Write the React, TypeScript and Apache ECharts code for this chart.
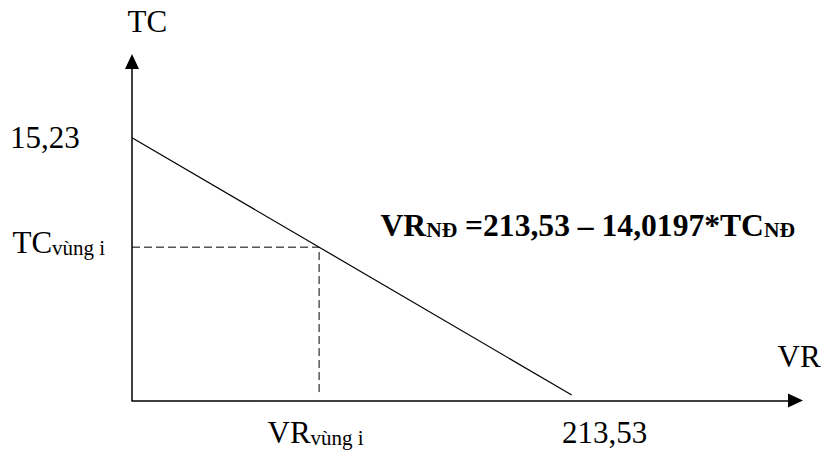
import React, { useEffect, useRef } from "react";
import * as echarts from "echarts";

const lineX = [0, 213.53];
const lineY = [15.23, 0];
const pointTC = 8.75;
const pointVR = 213.53 - 14.0197 * pointTC;
const xRange = [0, 322.2];
const yRange = [-0.326, 19.74];

const FONT = "'Liberation Serif', 'Times New Roman', serif";

export default function App() {
  const ref = useRef<HTMLDivElement>(null);
  useEffect(() => {
    if (!ref.current) return;
    const chart = echarts.init(ref.current, undefined, { renderer: "svg" });
    const lineData = lineX.map((x, i) => [x, lineY[i]]);
    const dashData = [
      [0, pointTC],
      [pointVR, pointTC],
      [pointVR, 0],
    ];
    const base = { fontFamily: FONT, fontSize: 31, fill: "#000" };
    const subRich = {
      m: { fontFamily: FONT, fontSize: 31, lineHeight: 31, verticalAlign: "bottom" },
      s: { fontFamily: FONT, fontSize: 21, lineHeight: 22, verticalAlign: "bottom" },
      mb: { fontFamily: FONT, fontSize: 31.6, fontWeight: "bold", lineHeight: 31.6, verticalAlign: "bottom" },
      sb: { fontFamily: FONT, fontSize: 21.5, fontWeight: "bold", lineHeight: 22.5, verticalAlign: "bottom" },
    };
    const axisLine = {
      show: true,
      onZero: false,
      symbol: ["none", "triangle"],
      symbolSize: [14, 15],
      lineStyle: { color: "#000", width: 1.5 },
    };
    chart.setOption({
      animation: false,
      backgroundColor: "#fff",
      grid: { left: 132, right: 33.5, top: 61.5, bottom: 51.5 },
      xAxis: {
        type: "value",
        min: xRange[0],
        max: xRange[1],
        axisLine,
        axisTick: { show: false },
        axisLabel: { show: false },
        splitLine: { show: false },
      },
      yAxis: {
        type: "value",
        min: yRange[0],
        max: yRange[1],
        axisLine,
        axisTick: { show: false },
        axisLabel: { show: false },
        splitLine: { show: false },
      },
      series: [
        {
          type: "line",
          data: lineData,
          symbol: "none",
          lineStyle: { color: "#000", width: 1.2 },
          silent: true,
        },
        {
          type: "line",
          data: dashData,
          symbol: "none",
          lineStyle: { color: "#000", width: 1, type: [8, 4] },
          silent: true,
        },
      ],
      graphic: [
        { type: "text", x: 127.5, y: 21.5, style: { ...base, text: "TC", textVerticalAlign: "middle" } },
        { type: "text", x: 10, y: 137.5, style: { ...base, text: "15,23", textVerticalAlign: "middle" } },
        {
          type: "text",
          x: 12.5,
          y: 242.5,
          style: { text: "{m|TC}{s|vùng i}", rich: subRich, fill: "#000", textVerticalAlign: "middle" },
        },
        {
          type: "text",
          x: 267.5,
          y: 432.5,
          style: { text: "{m|VR}{s|vùng i}", rich: subRich, fill: "#000", textVerticalAlign: "middle" },
        },
        { type: "text", x: 562, y: 432.5, style: { ...base, text: "213,53", textVerticalAlign: "middle" } },
        { type: "text", x: 777.5, y: 356.5, style: { ...base, text: "VR", textVerticalAlign: "middle" } },
        {
          type: "text",
          x: 380.5,
          y: 225.5,
          style: {
            text: "{mb|VR}{sb|NĐ}{mb| =213,53 – 14,0197*TC}{sb|NĐ}",
            rich: subRich,
            fill: "#000",
            textVerticalAlign: "middle",
          },
        },
      ],
    });
    return () => chart.dispose();
  }, []);
  return (
    <div
      ref={ref}
      style={{ position: "fixed", left: 0, top: 0, width: 829, height: 452, background: "#fff" }}
    />
  );
}
